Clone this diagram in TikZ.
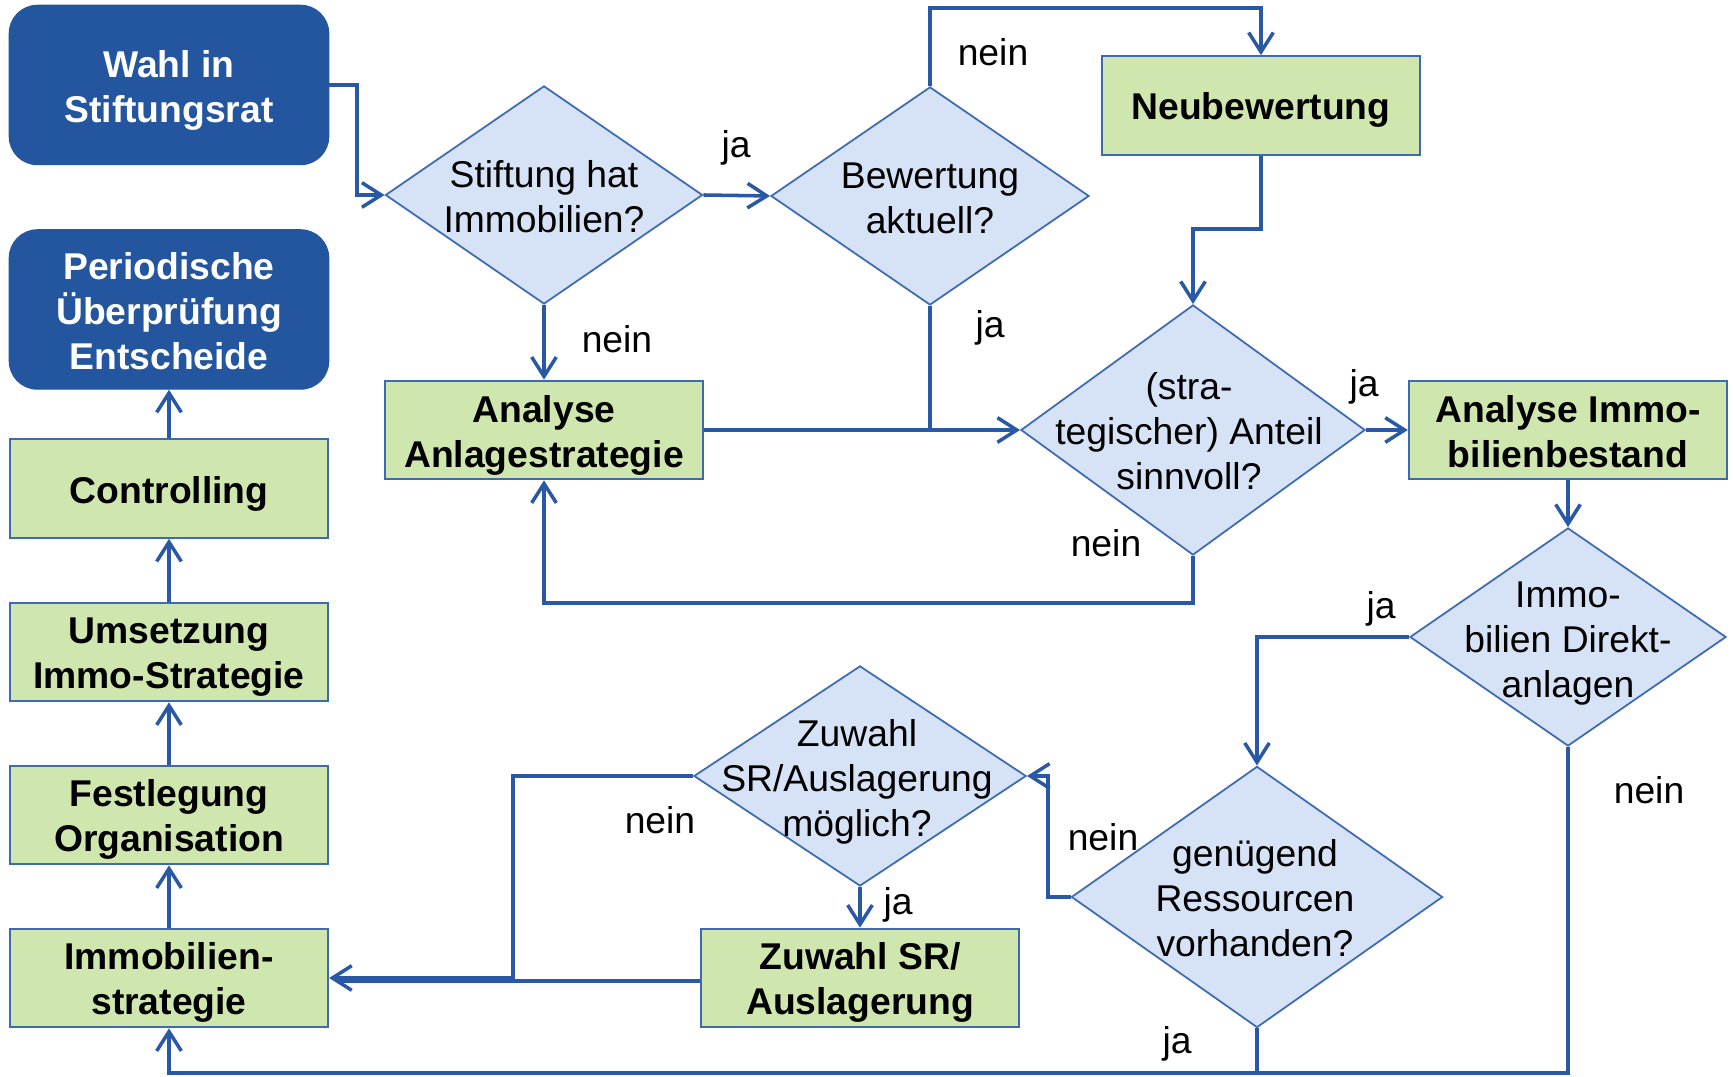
\documentclass[tikz,border=0pt]{standalone}
\usepackage{fontspec}
\setmainfont{Liberation Sans}
\usetikzlibrary{shapes.geometric,arrows.meta}
\definecolor{dblue}{RGB}{36,86,160}
\definecolor{lblue}{RGB}{41,89,166}
\definecolor{gfill}{RGB}{207,231,175}
\definecolor{dfill}{RGB}{214,226,245}
\definecolor{bord}{RGB}{62,106,178}
\begin{document}
\begin{tikzpicture}[x=0.01cm,y=-0.01cm,
  font=\fontsize{10.6}{12.8}\selectfont,
  rbox/.style={rectangle, rounded corners=0.28cm, fill=dblue, draw=dblue,
    minimum width=3.19cm, minimum height=1.59cm, inner sep=0pt},
  gbox/.style={rectangle, fill=gfill, draw=bord, line width=0.6pt,
    minimum width=3.18cm, minimum height=0.985cm, inner sep=0pt},
  btext/.style={align=center, inner sep=0pt, font=\fontsize{10.6}{12.8}\selectfont\bfseries},
  wtext/.style={btext, text=white},
  dia/.style={diamond, fill=dfill, draw=bord, line width=0.5pt, inner sep=0pt},
  dtext/.style={align=center, inner sep=0pt},
  lab/.style={inner sep=0pt},
  conn/.style={draw=lblue, line width=1pt},
  arr/.style={conn, -{Straight Barb[length=5.5pt,width=7pt]}},
]
\useasboundingbox (0,0) rectangle (1733,1077);

% left column
\node[rbox] (wahl) at (169,85) {};
\node[wtext] (wahlt) at ([yshift=-1.6pt]wahl.center) {Wahl in\\Stiftungsrat};
\node[rbox] (per) at (169,309.5) {};
\node[wtext] (pert) at ([yshift=-0.5pt]per.center) {Periodische\\Überprüfung\\Entscheide};
\node[gbox] (ctrl) at (169,488.5) {};
\node[btext] (ctrlt) at ([yshift=-1.6pt]ctrl.center) {Controlling};
\node[gbox] (ums) at (169,652) {};
\node[btext] (umst) at ([yshift=-1.6pt]ums.center) {Umsetzung\\Immo-Strategie};
\node[gbox] (fest) at (169,815) {};
\node[btext] (festt) at ([yshift=-1.4pt]fest.center) {Festlegung\\Organisation};
\node[gbox] (imm) at (169,978) {};
\node[btext] (immt) at ([yshift=-1.3pt]imm.center) {Immobilien-\\strategie};

% boxes
\node[gbox] (aas) at (544,430) {};
\node[btext] (aast) at ([yshift=-1.6pt]aas.center) {Analyse\\Anlagestrategie};
\node[gbox] (neu) at (1261,105.5) {};
\node[btext] (neut) at ([yshift=-1.2pt]neu.center) {Neubewertung};
\node[gbox] (aib) at (1568,430) {};
\node[btext] (aibt) at ([yshift=-0.5pt]aib.center) {Analyse Immo-\\bilienbestand};
\node[gbox] (zuw) at (860,978) {};
\node[btext] (zuwt) at ([yshift=-1.4pt]zuw.center) {Zuwahl SR/\\Auslagerung};

% diamonds
\node[dia, minimum width=3.17cm, minimum height=2.18cm] (d1) at (544,195) {};
\node[dtext] (d1t) at (544,197) {Stiftung hat\\Immobilien?};
\node[dia, minimum width=3.18cm, minimum height=2.18cm] (d2) at (930,196) {};
\node[dtext] (d2t) at (930,198) {Bewertung\\aktuell?};
\node[dia, minimum width=3.44cm, minimum height=2.50cm] (d3) at (1193,430) {};
\node[dtext] (d3t) at (1189,431.5) {(stra-\\tegischer) Anteil\\sinnvoll?};
\node[dia, minimum width=3.16cm, minimum height=2.18cm] (d4) at (1568,637) {};
\node[dtext] (d4t) at (1568,643.5) {Immo-\\bilien Direkt-\\anlagen};
\node[dia, minimum width=3.71cm, minimum height=2.61cm] (d5) at (1257,897) {};
\node[dtext] (d5t) at (1255,898.5) {genügend\\Ressourcen\\vorhanden?};
\node[dia, minimum width=3.32cm, minimum height=2.20cm] (d6) at (860,776) {};
\node[dtext] (d6t) at (857,781.5) {Zuwahl\\SR/Auslagerung\\möglich?};

% connectors
\draw[arr] (wahl.east) -- (357,85) |- (d1.west);
\draw[arr] (d1.south) -- (aas.north);
\draw[arr] (d1.east) -- (d2.west);
\draw[arr] (d2.north) -- (930,8) -| (neu.north);
\draw[arr] (neu.south) -- (1261,229) -| (d3.north);
\draw[arr] (aas.east) -- (d3.west);
\draw[conn] (d2.south) -- (d2.south |- d3.west);
\draw[arr] (d3.east) -- (aib.west);
\draw[arr] (d3.south) -- (1193,603) -| (aas.south);
\draw[arr] (aib.south) -- (d4.north);
\draw[arr] (d4.west) -| (d5.north);
\draw[arr] (d5.west) -- (1048,897) |- (d6.east);
\draw[arr] (d6.south) -- (zuw.north);
\draw[arr] (d6.west) -| (513,978) -- (imm.east);
\draw[conn] ([yshift=-0.03cm]zuw.west) -- ([yshift=-0.03cm,xshift=0.09cm]imm.east);
\draw[conn] (d5.south) -- (1257,1073);
\draw[arr] (d4.south) -- (1568,1073) -| (imm.south);
\draw[arr] (imm.north) -- (fest.south);
\draw[arr] (fest.north) -- (ums.south);
\draw[arr] (ums.north) -- (ctrl.south);
\draw[arr] (ctrl.north) -- (per.south);

% labels
\node[lab] (l1) at (736,147.5) {ja};
\node[lab] (l2) at (617,339) {nein};
\node[lab] (l3) at (993,52) {nein};
\node[lab] (l4) at (990,327.5) {ja};
\node[lab] (l5) at (1364,387) {ja};
\node[lab] (l6) at (1106,543) {nein};
\node[lab] (l7) at (1381,608.5) {ja};
\node[lab] (l8) at (1649,790) {nein};
\node[lab] (l9) at (1103,837) {nein};
\node[lab] (l10) at (660,820) {nein};
\node[lab] (l11) at (898,904.5) {ja};
\node[lab] (l12) at (1177,1044) {ja};
\end{tikzpicture}
\end{document}
